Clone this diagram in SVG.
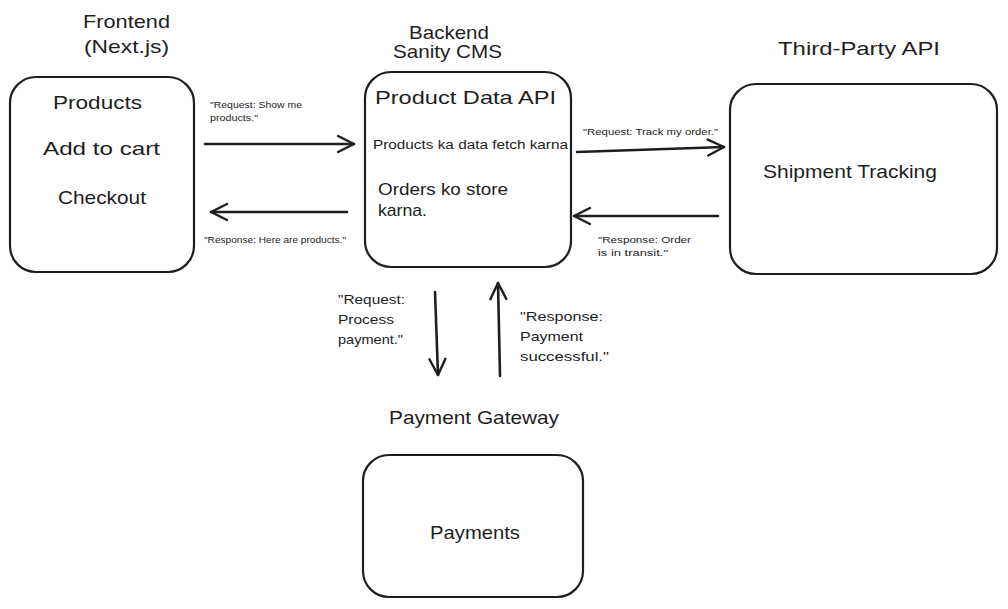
<svg xmlns="http://www.w3.org/2000/svg" width="1008" height="609" viewBox="0 0 1008 609">
<defs>
<style>
.box{fill:#fff;stroke:#1e1e1e;stroke-width:2.2}
.t{font-family:"Liberation Sans",Arial,sans-serif;fill:#1e1e1e}
.title{font-size:19px}
.big{font-size:19px}
.mid{font-size:17px}
.sm{font-size:9.5px}
.lbl{font-size:13.5px}
.c{fill:none;stroke:#1e1e1e;stroke-width:2.6;stroke-linecap:round}
</style>
<marker id="ah" viewBox="0 0 20 20" refX="18" refY="10" markerWidth="20" markerHeight="20" markerUnits="userSpaceOnUse" orient="auto">
<path d="M2,2 L18,10 L2,18" fill="none" stroke="#1e1e1e" stroke-width="2.4" stroke-linecap="round" stroke-linejoin="round"/>
</marker>
</defs>
<rect width="1008" height="609" fill="#fff"/>
<g id="frontend">
<text class="t title" x="83" y="28" textLength="87" lengthAdjust="spacingAndGlyphs">Frontend</text>
<text class="t title" x="84" y="53" textLength="85" lengthAdjust="spacingAndGlyphs">(Next.js)</text>
<rect class="box" x="10" y="77" width="184" height="195" rx="26"/>
<text class="t big" x="53" y="109" textLength="89" lengthAdjust="spacingAndGlyphs">Products</text>
<text class="t big" x="43" y="155" textLength="117" lengthAdjust="spacingAndGlyphs">Add to cart</text>
<text class="t big" x="58" y="204" textLength="88" lengthAdjust="spacingAndGlyphs">Checkout</text>
</g>
<g id="backend">
<text class="t title" x="409" y="39" textLength="80" lengthAdjust="spacingAndGlyphs">Backend</text>
<text class="t title" x="393" y="58" textLength="109" lengthAdjust="spacingAndGlyphs">Sanity CMS</text>
<rect class="box" x="365" y="72" width="206" height="195" rx="26"/>
<text class="t big" x="375" y="104" textLength="181" lengthAdjust="spacingAndGlyphs">Product Data API</text>
<text class="t" x="373" y="149" font-size="12" textLength="195" lengthAdjust="spacingAndGlyphs">Products ka data fetch karna</text>
<text class="t mid" x="378" y="195" textLength="130" lengthAdjust="spacingAndGlyphs">Orders ko store</text>
<text class="t mid" x="378" y="216" textLength="49" lengthAdjust="spacingAndGlyphs">karna.</text>
</g>
<g id="thirdparty">
<text class="t title" x="778" y="55" textLength="162" lengthAdjust="spacingAndGlyphs">Third-Party API</text>
<rect class="box" x="730" y="84" width="267" height="190" rx="26"/>
<text class="t big" x="763" y="178" textLength="174" lengthAdjust="spacingAndGlyphs">Shipment Tracking</text>
</g>
<g id="payment">
<text class="t title" x="389" y="424" textLength="170" lengthAdjust="spacingAndGlyphs">Payment Gateway</text>
<rect class="box" x="363" y="455" width="220" height="142" rx="26"/>
<text class="t big" x="430" y="539" textLength="90" lengthAdjust="spacingAndGlyphs">Payments</text>
</g>
<g id="connectors">
<path class="c" d="M205,144 L354,144" marker-end="url(#ah)"/>
<path class="c" d="M347,212 L211,212" marker-end="url(#ah)"/>
<path class="c" d="M577,152 L724,147" marker-end="url(#ah)"/>
<path class="c" d="M718,216 L574,216" marker-end="url(#ah)"/>
<path class="c" d="M435,292 L438,375" marker-end="url(#ah)"/>
<path class="c" d="M500,376 L498,283" marker-end="url(#ah)"/>
<text class="t sm" x="210" y="108" textLength="92" lengthAdjust="spacingAndGlyphs">"Request: Show me</text>
<text class="t sm" x="210" y="121" textLength="48" lengthAdjust="spacingAndGlyphs">products."</text>
<text class="t sm" x="204" y="243" textLength="142" lengthAdjust="spacingAndGlyphs">"Response: Here are products."</text>
<text class="t sm" x="583" y="135" textLength="135" lengthAdjust="spacingAndGlyphs">"Request: Track my order."</text>
<text class="t sm" x="598" y="243" textLength="93" lengthAdjust="spacingAndGlyphs">"Response: Order</text>
<text class="t sm" x="598" y="256" textLength="70" lengthAdjust="spacingAndGlyphs">is in transit."</text>
<text class="t lbl" x="338" y="304" textLength="67" lengthAdjust="spacingAndGlyphs">"Request:</text>
<text class="t lbl" x="338" y="324" textLength="56" lengthAdjust="spacingAndGlyphs">Process</text>
<text class="t lbl" x="338" y="344" textLength="65" lengthAdjust="spacingAndGlyphs">payment."</text>
<text class="t lbl" x="520" y="321" textLength="83" lengthAdjust="spacingAndGlyphs">"Response:</text>
<text class="t lbl" x="520" y="341" textLength="63" lengthAdjust="spacingAndGlyphs">Payment</text>
<text class="t lbl" x="520" y="361" textLength="89" lengthAdjust="spacingAndGlyphs">successful."</text>
</g>
</svg>
